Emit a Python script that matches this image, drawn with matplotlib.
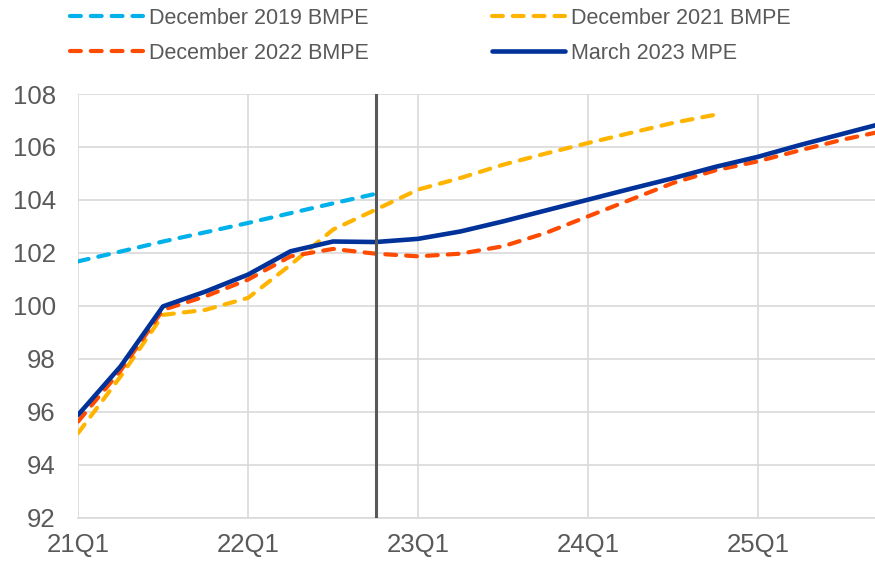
import matplotlib
matplotlib.use("Agg")
import matplotlib.pyplot as plt

plt.rcParams['font.family'] = ['Liberation Sans', 'DejaVu Sans']

# quarters from 21Q1 onwards
quarters = ['21Q1', '21Q2', '21Q3', '21Q4', '22Q1', '22Q2', '22Q3', '22Q4',
            '23Q1', '23Q2', '23Q3', '23Q4', '24Q1', '24Q2', '24Q3', '24Q4',
            '25Q1', '25Q2', '25Q3', '25Q4']
tick_labels = ['21Q1', '22Q1', '23Q1', '24Q1', '25Q1']

dec19 = [101.68, 102.05, 102.43, 102.78, 103.13, 103.50, 103.87, 104.23]
dec21 = [95.19, 97.33, 99.66, 99.85, 100.30, 101.55, 102.88, 103.63,
         104.39, 104.83, 105.33, 105.75, 106.15, 106.53, 106.91, 107.22]
dec22 = [95.63, 97.55, 99.85, 100.36, 100.99, 101.87, 102.15, 101.97,
         101.87, 101.97, 102.25, 102.75, 103.38, 104.01, 104.64, 105.12,
         105.46, 105.88, 106.28, 106.62]
mar23 = [95.88, 97.71, 99.98, 100.54, 101.18, 102.06, 102.43, 102.41,
         102.53, 102.81, 103.19, 103.60, 104.01, 104.42, 104.82, 105.25,
         105.63, 106.08, 106.50, 106.92]

grey = '#595959'
x = list(range(len(quarters)))

fig = plt.figure(figsize=(8.75, 5.63), dpi=100)
ax = fig.add_axes([78 / 875, 1 - 517.7 / 563, 797 / 875, (517.7 - 94) / 563])

dash = dict(linewidth=3.0, dashes=(2.6, 2.4), dash_capstyle='round')
l19, = ax.plot(x[:len(dec19)], dec19, color='#00B1EA', label='December 2019 BMPE', **dash)
l21, = ax.plot(x[:len(dec21)], dec21, color='#FFB400', label='December 2021 BMPE', **dash)
l22, = ax.plot(x[:len(dec22)], dec22, color='#FF4B00', label='December 2022 BMPE', **dash)
l23, = ax.plot(x, mar23, color='#003299', linewidth=3.3, label='March 2023 MPE',
               solid_capstyle='round')

# cut-off line at 22Q4
ax.axvline(quarters.index('22Q4'), color=grey, linewidth=2.2, zorder=5)

ax.set_xlim(0, 18.75)
ax.set_ylim(92, 108)
ax.set_yticks(range(92, 109, 2))
ax.set_xticks([quarters.index(t) for t in tick_labels])
ax.set_xticklabels(tick_labels)
ax.grid(True, color='#d9d9d9', linewidth=1.2)
ax.set_axisbelow(True)
for s in ['top', 'right', 'left']:
    ax.spines[s].set_visible(False)
ax.spines['bottom'].set_color('#d9d9d9')
ax.spines['bottom'].set_linewidth(1.2)
ax.tick_params(axis='both', length=0, labelsize=18.5, colors=grey)
ax.tick_params(axis='y', pad=16)
ax.tick_params(axis='x', pad=11)

# legend reads row by row, matplotlib fills columns first
handles = [l19, l22, l21, l23]
fig.legend(handles, [h.get_label() for h in handles], loc='upper left',
           bbox_to_anchor=(70 / 875, 1 - 8 / 563), ncol=2,
           frameon=False, fontsize=15.5, handlelength=3.4, handletextpad=0.25,
           columnspacing=5.75, labelspacing=0.65, borderpad=0, borderaxespad=0,
           labelcolor=grey)

fig.savefig('out.png', dpi=100)
